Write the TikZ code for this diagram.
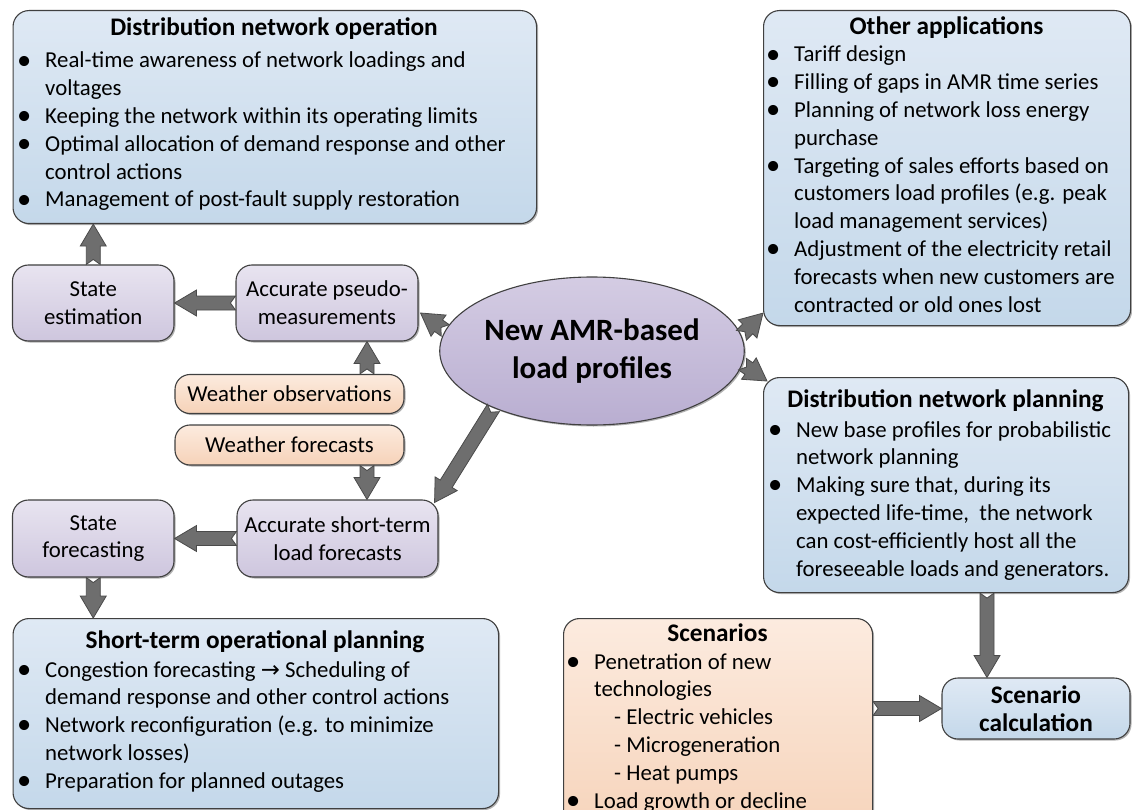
\documentclass[tikz,border=0pt]{standalone}
\usepackage{graphicx}
\usepackage{fontspec}
\setmainfont{Carlito}
\newfontfamily\symfont{DejaVu Sans}
\usetikzlibrary{shapes.geometric,calc,shadows}

\definecolor{blueTop}{HTML}{DFE9F4}
\definecolor{blueBot}{HTML}{C4D8EA}
\definecolor{purTop}{HTML}{E8E4F0}
\definecolor{purBot}{HTML}{CEC6DE}
\definecolor{ellTop}{HTML}{D4CCE3}
\definecolor{ellBot}{HTML}{B9AED1}
\definecolor{orTop}{HTML}{FCEBDF}
\definecolor{orBot}{HTML}{F6D2B8}
\definecolor{arrFill}{HTML}{6E6E6E}
\definecolor{arrLine}{HTML}{4A4A4A}
\definecolor{edgeGrey}{HTML}{404040}

\newcommand\bodyfont{\fontsize{22.8pt}{27.8pt}\selectfont}
\newcommand\headfont{\fontsize{25.3pt}{30pt}\selectfont}
\newcommand\bul{\makebox[0pt][r]{\raisebox{-1.2pt}{\scalebox{1.25}{•}}\hspace{14pt}}}

% block arrow with a notched tail, drawn from #1 to #2
\newcommand\blockarrow[2]{%
  \coordinate (ba-s) at (#1);
  \coordinate (ba-e) at (#2);
  \coordinate (ba-h) at ($(ba-e)!22pt!(ba-s)$);
  \filldraw[blockarr]
    ($(ba-s)!7pt!90:(ba-e)$) -- ($(ba-h)!7pt!-90:(ba-s)$) -- ($(ba-h)!13pt!-90:(ba-s)$)
    -- (ba-e) -- ($(ba-h)!13pt!90:(ba-s)$) -- ($(ba-h)!7pt!90:(ba-s)$)
    -- ($(ba-s)!7pt!-90:(ba-e)$) -- ($(ba-s)!5pt!(ba-e)$) -- cycle;
}

\tikzset{
  box/.style={draw=edgeGrey, line width=1.1pt, rounded corners=16pt,
    drop shadow={shadow xshift=1.5pt, shadow yshift=-1.5pt, opacity=0.3, fill=black}},
  bluebox/.style={box, top color=blueTop, bottom color=blueBot},
  purbox/.style={box, top color=purTop, bottom color=purBot, align=center, font=\bodyfont},
  orbox/.style={box, top color=orTop, bottom color=orBot},
  bodytext/.style={anchor=base west, inner sep=0pt},
  titletext/.style={anchor=base, inner sep=0pt, font=\bfseries\headfont},
  blockarr/.style={fill=arrFill, draw=arrLine, line width=0.8pt, line join=miter},
}

\begin{document}
\begin{tikzpicture}[x=1pt, y=-1pt]
\useasboundingbox (0,0) rectangle (1132,810);

% ---------- boxes ----------
\node[bluebox, anchor=north west, minimum width=523.5pt, minimum height=213pt] (dno) at (12.5,10) {};
\node[bluebox, anchor=north west, minimum width=367pt, minimum height=315pt] (oa) at (763,10) {};
\node[bluebox, anchor=north west, minimum width=365pt, minimum height=215pt] (dnp) at (763,377) {};
\node[bluebox, anchor=north west, minimum width=485.5pt, minimum height=190pt] (stop) at (12.5,618) {};
\node[orbox, anchor=north west, minimum width=309pt, minimum height=230pt] (scn) at (563,618) {};

\node[purbox, minimum width=161.5pt, minimum height=76pt] (se) at (93.25,303) {State\\estimation};
\node[purbox, minimum width=182pt, minimum height=76pt] (pm) at (327,303) {Accurate pseudo-\\measurements};
\node[purbox, minimum width=161.5pt, minimum height=77pt] (sf) at (93.25,538.5) {State\\forecasting};
\node[purbox, minimum width=201pt, minimum height=77pt] (st) at (337.5,538.5) {Accurate short-term\\load forecasts};

\node[orbox, rounded corners=15pt, minimum width=229pt, minimum height=39pt, font=\bodyfont] (wo) at (289.5,394) {Weather observations};
\node[orbox, rounded corners=15pt, minimum width=229pt, minimum height=40pt, font=\bodyfont] (wf) at (289.5,445) {Weather forecasts};

\node[ellipse, draw=edgeGrey, line width=1.1pt, top color=ellTop, bottom color=ellBot,
      drop shadow={shadow xshift=1.5pt, shadow yshift=-1.5pt, opacity=0.3, fill=black},
      minimum width=280pt, minimum height=148pt, inner sep=0pt, align=center,
      font=\bfseries\fontsize{31pt}{37.5pt}\selectfont] (ell) at (592,351) {New AMR-based\\load profiles};

\node[bluebox, minimum width=188pt, minimum height=61pt, align=center,
      font=\bfseries\fontsize{25.3pt}{28.5pt}\selectfont] (sc) at (1036,708.5) {Scenario\\calculation};

% ---------- texts of the large boxes ----------
\node[titletext] (dno-t) at (274,36) {Distribution network operation};
\node[bodytext] (dno-b) at (45,68) {\parbox[t]{600pt}{\bodyfont\raggedright
\bul Real-time awareness of network loadings and\\
voltages\\
\bul Keeping the network within its operating limits\\
\bul Optimal allocation of demand response and other\\
control actions\\
\bul Management of post-fault supply restoration}};

\node[titletext] (oa-t) at (946.5,35) {Other applications};
\node[bodytext] (oa-b) at (794,62) {\parbox[t]{600pt}{\bodyfont\raggedright
\bul Tariff design\\
\bul Filling of gaps in AMR time series\\
\bul Planning of network loss energy\\
purchase\\
\bul Targeting of sales efforts based on\\
customers load profiles (e.g. peak\\
load management services)\\
\bul Adjustment of the electricity retail\\
forecasts when new customers are\\
contracted or old ones lost}};

\node[titletext] (dnp-t) at (945.5,407) {Distribution network planning};
\node[bodytext] (dnp-b) at (796,437) {\parbox[t]{600pt}{\bodyfont\raggedright
\bul New base profiles for probabilistic\\
network planning\\
\bul Making sure that, during its\\
expected life-time,\ \ the network\\
can cost-efficiently host all the\\
foreseeable loads and generators.}};

\node[titletext] (stop-t) at (255,648) {Short-term operational planning};
\node[bodytext] (stop-b) at (45,677) {\parbox[t]{600pt}{\bodyfont\raggedright
\bul Congestion forecasting {\symfont →} Scheduling of\\
demand response and other control actions\\
\bul Network reconfiguration (e.g. to minimize\\
network losses)\\
\bul Preparation for planned outages}};

\node[titletext] (scn-t) at (717.5,641) {Scenarios};
\node[bodytext] (scn-b) at (594,669) {\parbox[t]{400pt}{\bodyfont\raggedright
\bul Penetration of new\\
technologies\\
\hspace*{20pt}- Electric vehicles\\
\hspace*{20pt}- Microgeneration\\
\hspace*{20pt}- Heat pumps\\
\bul Load growth or decline}};

% ---------- block arrows ----------
\coordinate (wx) at (367,0);
\coordinate (cx) at (987,0);
\blockarrow{se.north}{se.north |- dno.south}
\blockarrow{pm.west}{se.east}
\blockarrow{wo.north -| wx}{pm.south -| wx}
\blockarrow{ell.172}{$(pm.east)+(2,10)$}
\blockarrow{wf.south -| wx}{st.north -| wx}
\blockarrow{ell.210}{$(st.north east)+(-4,3)$}
\blockarrow{st.west}{sf.east}
\blockarrow{sf.south}{sf.south |- stop.north}
\blockarrow{ell.6}{$(oa.south west)+(0,-13)$}
\blockarrow{ell.-5}{$(dnp.north west)+(4,4)$}
\blockarrow{dnp.south -| cx}{sc.north -| cx}
\blockarrow{scn.east |- sc.west}{sc.west}
\end{tikzpicture}
\end{document}
